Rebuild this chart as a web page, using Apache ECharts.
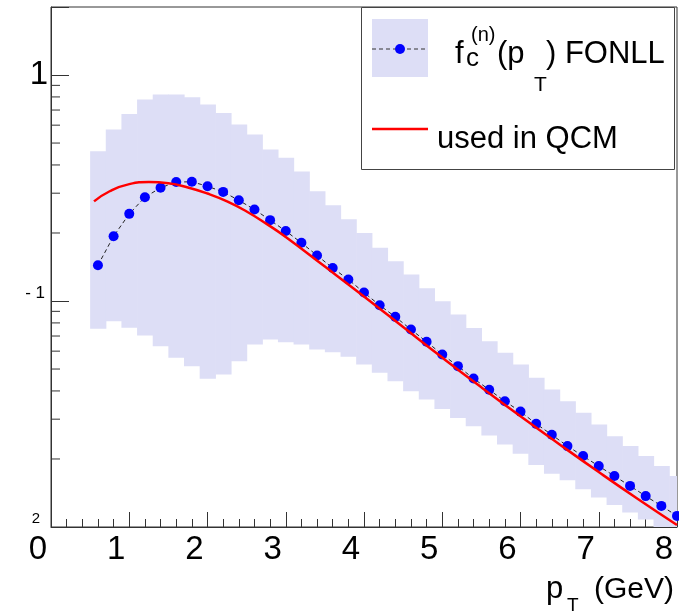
<!DOCTYPE html>
<html><head><meta charset="utf-8">
<script src="https://cdn.jsdelivr.net/npm/echarts@6/dist/echarts.min.js"></script>
<style>html,body{margin:0;padding:0;background:#fff}#c{width:679px;height:614px}</style>
</head><body><div id="c"></div>
<script>
// ---- data ----
const binCenters = [0.6,0.8,1.0,1.2,1.4,1.6,1.8,2.0,2.2,2.4,2.6,2.8,3.0,3.2,3.4,3.6,3.8,4.0,4.2,4.4,4.6,4.8,5.0,5.2,5.4,5.6,5.8,6.0,6.2,6.4,6.6,6.8,7.0,7.2,7.4,7.6,7.8,8.0];
const fonllValues = [0.144,0.1935,0.243,0.288,0.317,0.336,0.337,0.322,0.304,0.279,0.254,0.228,0.204,0.181,0.159,0.140,0.1245,0.109,0.0958,0.0851,0.0748,0.0660,0.0580,0.0515,0.0454,0.0405,0.0360,0.0324,0.0286,0.0256,0.0228,0.0206,0.0186,0.0168,0.0152,0.0137,0.0124,0.0112];
const bandUpper = [0.460,0.574,0.673,0.779,0.820,0.820,0.797,0.740,0.680,0.604,0.545,0.468,0.431,0.374,0.306,0.265,0.230,0.200,0.172,0.150,0.131,0.114,0.0998,0.0871,0.0760,0.0664,0.0590,0.0524,0.0457,0.0406,0.0360,0.0320,0.0284,0.0252,0.0228,0.0206,0.0186,0.0168];
const bandLower = [0.0753,0.0814,0.0761,0.0704,0.0631,0.0561,0.0515,0.0453,0.0473,0.0542,0.0642,0.0676,0.0657,0.0642,0.0610,0.0593,0.0566,0.0524,0.0481,0.0441,0.0399,0.0367,0.0333,0.0304,0.0279,0.0254,0.0232,0.0211,0.0188,0.0172,0.0161,0.0147,0.0135,0.0125,0.0116,0.0108,0.0100,0.0094];
const qcmX = [0.55,0.75,1.0,1.25,1.5,1.75,2.0,2.25,2.5,2.75,3.0,3.5,4.0,4.5,5.0,5.5,6.0,6.5,7.0,7.5,8.0];
const qcmY = [0.276,0.306,0.329,0.336,0.332,0.318,0.299,0.276,0.249,0.220,0.192,0.142,0.1047,0.0767,0.0562,0.0415,0.0309,0.0232,0.0175,0.0133,0.0102];
const yTickValues = [1, 0.1, 0.01];
const yTickTexts = ['{a|1}', '{b|- 1}', '{c|2}'];
const yMinorTickValues = [0.02,0.03,0.04,0.05,0.06,0.07,0.08,0.09,0.2,0.3,0.4,0.5,0.6,0.7,0.8,0.9];
const binWidth = 0.2;

const FONT = 'Liberation Sans, Arial, Helvetica, sans-serif';
const bandColor = '#dddef6';
const axisColor = '#333';

const chart = echarts.init(document.getElementById('c'), null, {renderer: 'canvas'});

function txt(x, y, text, size) {
  return {type: 'text', x: x, y: y, z: 100,
    style: {text: text, fontSize: size, fontFamily: FONT, fill: '#000', align: 'left', verticalAlign: 'middle'}};
}

const option = {
  animation: false,
  backgroundColor: '#fff',
  grid: {left: 51, top: 7, width: 626, height: 520, show: true, borderColor: axisColor, borderWidth: 1, backgroundColor: 'transparent'},
  xAxis: {
    type: 'value', min: 0, max: 8, interval: 1,
    axisLine: {show: true, onZero: false, lineStyle: {color: axisColor, width: 1}},
    axisTick: {show: true, inside: true, length: 15, lineStyle: {color: axisColor}},
    minorTick: {show: true, splitNumber: 5, length: 8, lineStyle: {color: axisColor}},
    splitLine: {show: false}, minorSplitLine: {show: false},
    axisLabel: {fontSize: 33, color: '#000', fontFamily: FONT, margin: 6, padding: [0, 26, 0, 0]}
  },
  yAxis: {
    type: 'log', logBase: 10, min: 0.01, max: 2,
    axisLine: {show: true, lineStyle: {color: axisColor, width: 1}},
    axisTick: {show: true, inside: true, length: 18, lineStyle: {color: axisColor}},
    splitLine: {show: false},
    axisLabel: {
      margin: 3, color: '#000', fontFamily: FONT,
      formatter: function (v) {
        for (let i = 0; i < yTickValues.length; i++) {
          if (Math.abs(v - yTickValues[i]) / yTickValues[i] < 1e-6) return yTickTexts[i];
        }
        return '';
      },
      rich: {
        a: {fontSize: 33, fontFamily: FONT, color: '#000'},
        b: {fontSize: 17, fontFamily: FONT, color: '#000', padding: [0, 3, 15, 0]},
        c: {fontSize: 15, fontFamily: FONT, color: '#000', padding: [0, 8, 16, 0]}
      }
    }
  },
  series: [
    {
      type: 'custom', name: 'band', clip: true, z: 1, silent: true,
      data: binCenters.map((x, i) => [x, bandLower[i], bandUpper[i]]),
      encode: {x: 0, y: [1, 2]},
      renderItem: function (params, api) {
        const x = api.value(0), lo = api.value(1), hi = api.value(2);
        const a = api.coord([x - binWidth / 2, hi]);
        const b = api.coord([x + binWidth / 2, lo]);
        return {type: 'rect', shape: {x: a[0], y: a[1], width: b[0] - a[0] + 0.6, height: b[1] - a[1]},
          style: {fill: bandColor}};
      }
    },
    {
      type: 'line', name: 'FONLL', z: 3,
      data: binCenters.map((x, i) => [x, fonllValues[i]]),
      symbol: 'circle', symbolSize: 10, showSymbol: true,
      itemStyle: {color: '#0000ff'},
      lineStyle: {color: '#222', width: 1, type: [4, 3]}
    },
    {
      type: 'line', name: 'QCM', z: 4, smooth: true,
      data: qcmX.map((x, i) => [x, qcmY[i]]),
      showSymbol: false, symbol: 'none',
      lineStyle: {color: '#ff0000', width: 2.5}
    },
    {
      type: 'custom', name: 'yminor', clip: false, z: 5, silent: true,
      data: yMinorTickValues.map(v => [0, v]),
      renderItem: function (params, api) {
        const p = api.coord([0, api.value(1)]);
        return {type: 'line', shape: {x1: p[0], y1: p[1], x2: p[0] + 9, y2: p[1]},
          style: {stroke: axisColor, lineWidth: 1}};
      }
    }
  ],
  graphic: [
    {type: 'rect', z: 90, shape: {x: 361.5, y: 7.5, width: 313, height: 162}, style: {fill: '#fff', stroke: '#444', lineWidth: 1}},
    {type: 'rect', z: 91, shape: {x: 372, y: 19, width: 56, height: 58}, style: {fill: bandColor}},
    {type: 'line', z: 92, shape: {x1: 372, y1: 49, x2: 428, y2: 49}, style: {stroke: '#333', lineWidth: 1, lineDash: [4, 3]}},
    {type: 'circle', z: 93, shape: {cx: 400, cy: 49, r: 5}, style: {fill: '#0000ff'}},
    {type: 'line', z: 92, shape: {x1: 372, y1: 129, x2: 428, y2: 129}, style: {stroke: '#ff0000', lineWidth: 2.5}},
    txt(455, 54.5, 'f', 31),
    txt(466, 58.5, 'c', 26),
    txt(471, 35, '(n)', 20),
    txt(497, 54.5, '(p', 31),
    txt(534, 85, 'T', 21),
    txt(546, 54.5, ') FONLL', 31),
    txt(437, 139.5, 'used in QCM', 31),
    txt(546, 589.5, 'p', 31),
    txt(567, 605.5, 'T', 19),
    txt(594, 589.5, '(GeV)', 30)
  ]
};
chart.setOption(option);
</script>
</body></html>
